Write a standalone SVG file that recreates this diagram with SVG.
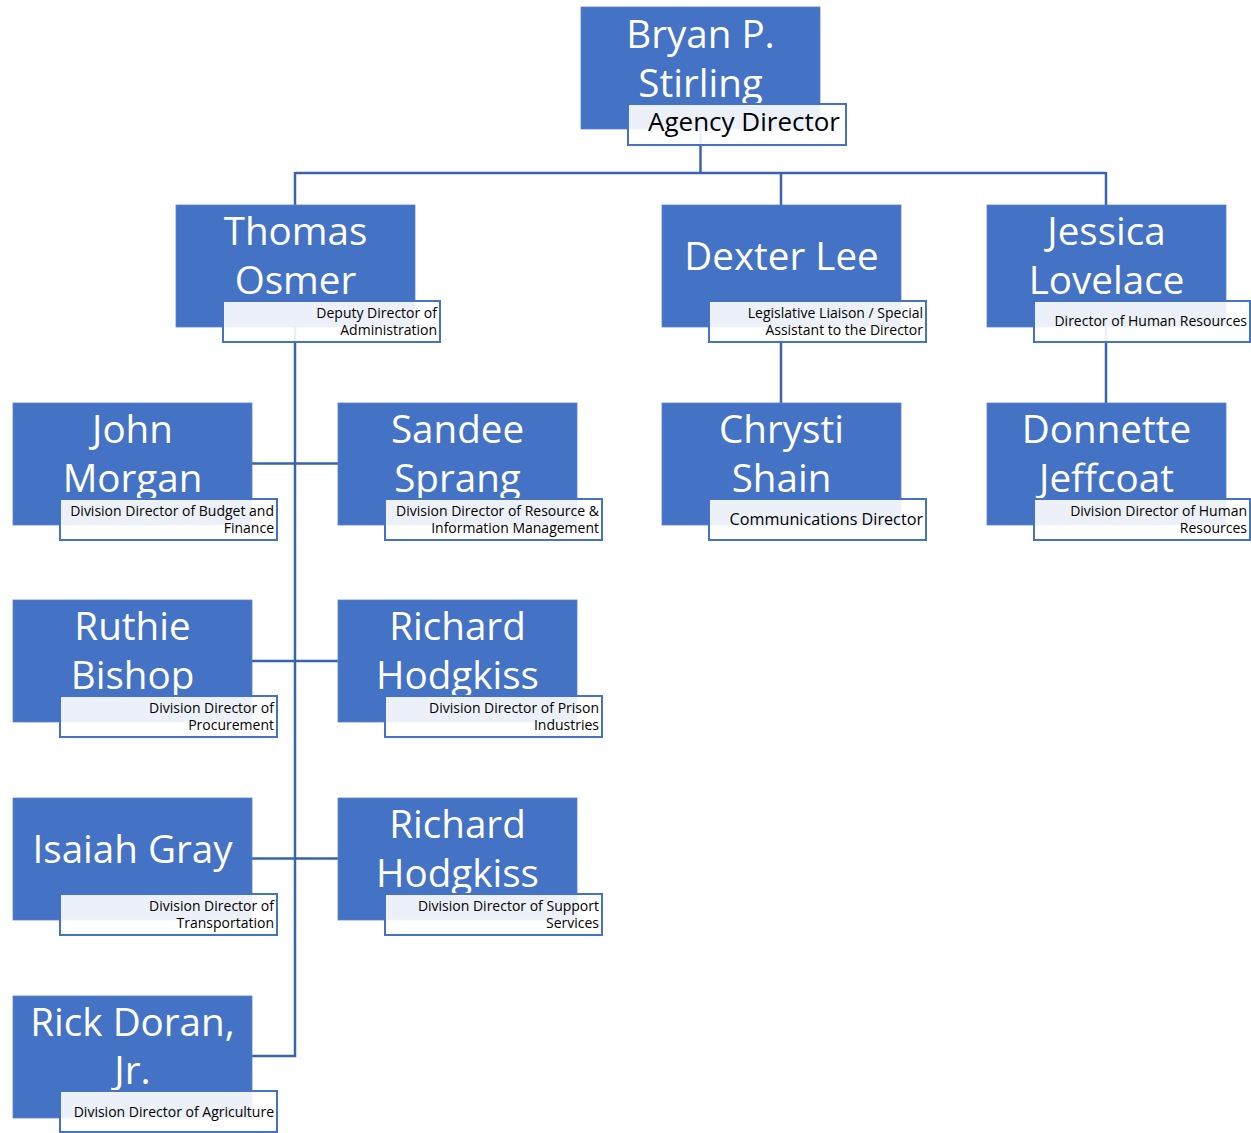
<svg xmlns="http://www.w3.org/2000/svg" width="1251" height="1133" viewBox="0 0 1251 1133">
<style>
.bg{fill:#ffffff}
.box{fill:#4472c4;stroke:#5a83cc;stroke-width:0.8}
.lab{fill:#ffffff;fill-opacity:0.9;stroke:#4472c4;stroke-width:2}
.name{font-family:"Open Sans","Noto Sans",sans-serif;font-size:38.6px;fill:#ffffff;text-anchor:middle}
.t{font-family:"Open Sans","Noto Sans",sans-serif;font-size:14px;fill:#000000;text-anchor:end}
.t2{font-family:"Open Sans","Noto Sans",sans-serif;font-size:16.2px;fill:#000000;text-anchor:end}
.t3{font-family:"Open Sans","Noto Sans",sans-serif;font-size:26px;fill:#000000;text-anchor:end}
.con{fill:none;stroke:#3a63ab;stroke-width:2.5}
</style>
<rect class="bg" x="0" y="0" width="1251" height="1133"/>
<g id="connectors">
<path class="con" d="M700.5,129 V173"/>
<path class="con" d="M295,173 H1106 M295,172 V205 M781,173 V205 M1106,172 V205"/>
<path class="con" d="M295,327 V1056 H252"/>
<path class="con" d="M252,463.5 H338 M252,661 H338 M252,858.5 H338"/>
<path class="con" d="M781,327 V403 M1106,327 V403"/>
</g>
<g id="bryan">
<rect class="box" x="581" y="7" width="239" height="122"/>
<text class="name" x="700.5" y="48">Bryan P.</text>
<text class="name" x="700.5" y="97">Stirling</text>
<rect class="lab" x="628" y="104" width="218" height="41"/>
<text class="t3" x="840" y="131">Agency Director</text>
</g>
<g id="thomas">
<rect class="box" x="176" y="205" width="239" height="122"/>
<text class="name" x="295.5" y="245">Thomas</text>
<text class="name" x="295.5" y="294">Osmer</text>
<rect class="lab" x="223" y="301" width="217" height="41"/>
<text class="t" x="437" y="317.5">Deputy Director of</text>
<text class="t" x="437" y="334.5">Administration</text>
</g>
<g id="dexter">
<rect class="box" x="662" y="205" width="239" height="122"/>
<text class="name" x="781.5" y="270">Dexter Lee</text>
<rect class="lab" x="709" y="301" width="217" height="41"/>
<text class="t" x="923" y="317.5">Legislative Liaison / Special</text>
<text class="t" x="923" y="334.5">Assistant to the Director</text>
</g>
<g id="jessica">
<rect class="box" x="987" y="205" width="239" height="122"/>
<text class="name" x="1106.5" y="245">Jessica</text>
<text class="name" x="1106.5" y="294">Lovelace</text>
<rect class="lab" x="1034" y="301" width="216" height="41"/>
<text class="t" x="1247" y="326">Director of Human Resources</text>
</g>
<g id="john">
<rect class="box" x="13" y="403" width="239" height="122"/>
<text class="name" x="132.5" y="443">John</text>
<text class="name" x="132.5" y="492">Morgan</text>
<rect class="lab" x="60" y="499" width="217" height="41"/>
<text class="t" x="274" y="515.5">Division Director of Budget and</text>
<text class="t" x="274" y="532.5">Finance</text>
</g>
<g id="sandee">
<rect class="box" x="338" y="403" width="239" height="122"/>
<text class="name" x="457.5" y="443">Sandee</text>
<text class="name" x="457.5" y="492">Sprang</text>
<rect class="lab" x="385" y="499" width="217" height="41"/>
<text class="t" x="599" y="515.5">Division Director of Resource &amp;</text>
<text class="t" x="599" y="532.5">Information Management</text>
</g>
<g id="chrysti">
<rect class="box" x="662" y="403" width="239" height="122"/>
<text class="name" x="781.5" y="443">Chrysti</text>
<text class="name" x="781.5" y="492">Shain</text>
<rect class="lab" x="709" y="499" width="217" height="41"/>
<text class="t2" x="923" y="524.5">Communications Director</text>
</g>
<g id="donnette">
<rect class="box" x="987" y="403" width="239" height="122"/>
<text class="name" x="1106.5" y="443">Donnette</text>
<text class="name" x="1106.5" y="492">Jeffcoat</text>
<rect class="lab" x="1034" y="499" width="216" height="41"/>
<text class="t" x="1247" y="515.5">Division Director of Human</text>
<text class="t" x="1247" y="532.5">Resources</text>
</g>
<g id="ruthie">
<rect class="box" x="13" y="600" width="239" height="122"/>
<text class="name" x="132.5" y="640">Ruthie</text>
<text class="name" x="132.5" y="689">Bishop</text>
<rect class="lab" x="60" y="696" width="217" height="41"/>
<text class="t" x="274" y="712.5">Division Director of</text>
<text class="t" x="274" y="729.5">Procurement</text>
</g>
<g id="richard-prison">
<rect class="box" x="338" y="600" width="239" height="122"/>
<text class="name" x="457.5" y="640">Richard</text>
<text class="name" x="457.5" y="689">Hodgkiss</text>
<rect class="lab" x="385" y="696" width="217" height="41"/>
<text class="t" x="599" y="712.5">Division Director of Prison</text>
<text class="t" x="599" y="729.5">Industries</text>
</g>
<g id="isaiah">
<rect class="box" x="13" y="798" width="239" height="122"/>
<text class="name" x="132.5" y="863">Isaiah Gray</text>
<rect class="lab" x="60" y="894" width="217" height="41"/>
<text class="t" x="274" y="910.5">Division Director of</text>
<text class="t" x="274" y="927.5">Transportation</text>
</g>
<g id="richard-support">
<rect class="box" x="338" y="798" width="239" height="122"/>
<text class="name" x="457.5" y="838">Richard</text>
<text class="name" x="457.5" y="887">Hodgkiss</text>
<rect class="lab" x="385" y="894" width="217" height="41"/>
<text class="t" x="599" y="910.5">Division Director of Support</text>
<text class="t" x="599" y="927.5">Services</text>
</g>
<g id="rick">
<rect class="box" x="13" y="996" width="239" height="122"/>
<text class="name" x="132.5" y="1036">Rick Doran,</text>
<text class="name" x="132.5" y="1084">Jr.</text>
<rect class="lab" x="60" y="1091" width="217" height="41"/>
<text class="t" x="274" y="1117">Division Director of Agriculture</text>
</g>
</svg>
